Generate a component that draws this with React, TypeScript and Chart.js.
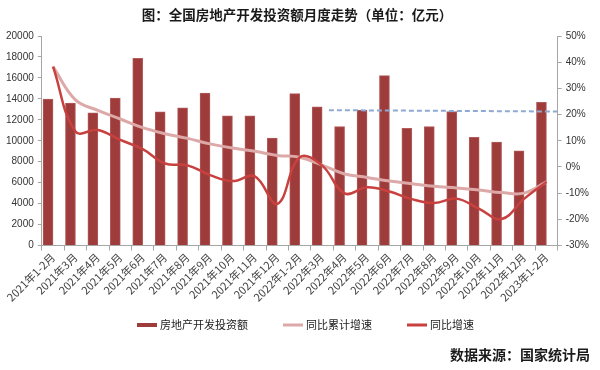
import React, { useEffect, useRef } from "react";
import { Chart, registerables } from "chart.js";

Chart.register(...registerables);

const categories = [
  "2021年1-2月", "2021年3月", "2021年4月", "2021年5月", "2021年6月", "2021年7月",
  "2021年8月", "2021年9月", "2021年10月", "2021年11月", "2021年12月",
  "2022年1-2月", "2022年3月", "2022年4月", "2022年5月", "2022年6月", "2022年7月",
  "2022年8月", "2022年9月", "2022年10月", "2022年11月", "2022年12月", "2023年1-2月",
];

const investment = [
  13986, 13600, 12660, 14070, 17860, 12760, 13140, 14550, 12370, 12370, 10260,
  14499, 13240, 11350, 12920, 16220, 11180, 11350, 12790, 10320, 9870, 9040, 13669,
];

const cumulativeGrowth = [
  38.3, 25.6, 21.6, 18.3, 15.0, 12.7, 10.9, 8.8, 7.2, 6.0, 4.4,
  3.7, 0.7, -2.7, -4.0, -5.4, -6.4, -7.4, -8.0, -8.8, -9.8, -10.0, -5.7,
];

const monthlyGrowth = [
  38.3, 13.5, 14.1, 10.3, 6.8, 1.3, 0.6, -3.1, -5.4, -3.6, -14.1,
  3.7, 0.5, -10.1, -7.8, -9.4, -12.3, -13.8, -12.1, -16.0, -19.9, -12.2, -5.7,
];

// dashed reference line (x in category index units)
const refLineX = [12.3, 22.5];
const refLineY = [12920, 12790];

const leftTicks = { min: 0, max: 20000, step: 2000 };
const rightTicks = { min: -30, max: 50, step: 10 };

const seriesNames = ["房地产开发投资额", "同比累计增速", "同比增速"];
const TITLE = "图：全国房地产开发投资额月度走势（单位：亿元）";
const SOURCE = "数据来源：国家统计局";

const CJK = "'Noto Sans CJK SC', sans-serif";
const NUM = "'Liberation Sans', Arial, sans-serif";
const colors = ["#9E3B3B", "#DDA9A8", "#C8413F"];
const legendWidths = [4, 3, 3];

const textPlugin = {
  id: "texts",
  afterDraw(chart: any) {
    const ctx = chart.ctx;
    ctx.save();
    ctx.fillStyle = "#1a1a1a";
    ctx.font = "bold 13.5px " + CJK;
    ctx.textAlign = "center";
    ctx.textBaseline = "middle";
    ctx.fillText(TITLE, 297, 15);
    ctx.font = "bold 14px " + CJK;
    ctx.textAlign = "right";
    ctx.fillText(SOURCE, 590, 355);

    // legend
    ctx.font = "11px " + CJK;
    ctx.textAlign = "left";
    let x = 137;
    const y = 325;
    seriesNames.forEach((name, i) => {
      ctx.strokeStyle = colors[i];
      ctx.lineWidth = legendWidths[i];
      ctx.beginPath();
      ctx.moveTo(x, y);
      ctx.lineTo(x + 20, y);
      ctx.stroke();
      ctx.fillStyle = "#222";
      ctx.fillText(name, x + 23, y);
      x += 23 + ctx.measureText(name).width + 35;
    });
    ctx.restore();
  },
};

export default function App() {
  const ref = useRef<HTMLCanvasElement | null>(null);
  useEffect(() => {
    if (!ref.current) return;
    const chart = new Chart(ref.current, {
      type: "bar",
      data: {
        labels: categories,
        datasets: [
          {
            type: "bar",
            label: seriesNames[0],
            data: investment,
            backgroundColor: colors[0],
            borderColor: "#B35C5B",
            borderWidth: 1,
            barThickness: 10,
            yAxisID: "y",
            order: 3,
          },
          {
            type: "line",
            label: seriesNames[1],
            data: cumulativeGrowth,
            borderColor: colors[1],
            borderWidth: 3,
            pointRadius: 0,
            tension: 0.4,
            yAxisID: "y1",
            order: 2,
          },
          {
            type: "line",
            label: seriesNames[2],
            data: monthlyGrowth,
            borderColor: colors[2],
            borderWidth: 2.5,
            pointRadius: 0,
            tension: 0.4,
            yAxisID: "y1",
            order: 1,
          },
          {
            type: "line",
            label: "ref",
            data: refLineX.map((x, i) => ({ x, y: refLineY[i] })),
            borderColor: "#8FAAD2",
            borderWidth: 2,
            borderDash: [5, 3],
            pointRadius: 0,
            xAxisID: "x2",
            yAxisID: "y",
            order: 0,
          } as any,
        ],
      },
      options: {
        animation: false,
        responsive: false,
        maintainAspectRatio: false,
        layout: { padding: { top: 36, left: 2, right: 7, bottom: 66 } },
        plugins: {
          title: { display: false },
          tooltip: { enabled: false },
          legend: { display: false },
        },
        scales: {
          x: {
            type: "category",
            offset: true,
            grid: { display: true, drawOnChartArea: false, offset: true, tickLength: 5, color: "#A6A6A6" },
            border: { color: "#A6A6A6" },
            ticks: {
              minRotation: 45,
              maxRotation: 45,
              autoSkip: false,
              color: "#444",
              padding: 0,
              font: { family: CJK, size: 11 },
            },
          },
          x2: {
            type: "linear",
            display: false,
            offset: false,
            min: -0.5,
            max: 22.5,
          } as any,
          y: {
            position: "left",
            min: leftTicks.min,
            max: leftTicks.max,
            grid: { drawOnChartArea: false, tickLength: 4, color: "#A6A6A6" },
            border: { color: "#A6A6A6" },
            ticks: {
              stepSize: leftTicks.step,
              color: "#333",
              padding: 4,
              font: { family: NUM, size: 10 },
              callback: (v: any) => String(v),
            },
          },
          y1: {
            position: "right",
            min: rightTicks.min,
            max: rightTicks.max,
            grid: { drawOnChartArea: false, tickLength: 4, color: "#A6A6A6" },
            border: { color: "#A6A6A6" },
            ticks: {
              stepSize: rightTicks.step,
              color: "#333",
              padding: 4,
              font: { family: NUM, size: 10 },
              callback: (v: any) => v + "%",
            },
          },
        },
      },
      plugins: [textPlugin],
    });
    return () => chart.destroy();
  }, []);
  return (
    <div style={{ position: "fixed", left: 0, top: 0, width: 600, height: 370, background: "#fff" }}>
      <canvas ref={ref} width={600} height={370} style={{ width: 600, height: 370 }} />
    </div>
  );
}
